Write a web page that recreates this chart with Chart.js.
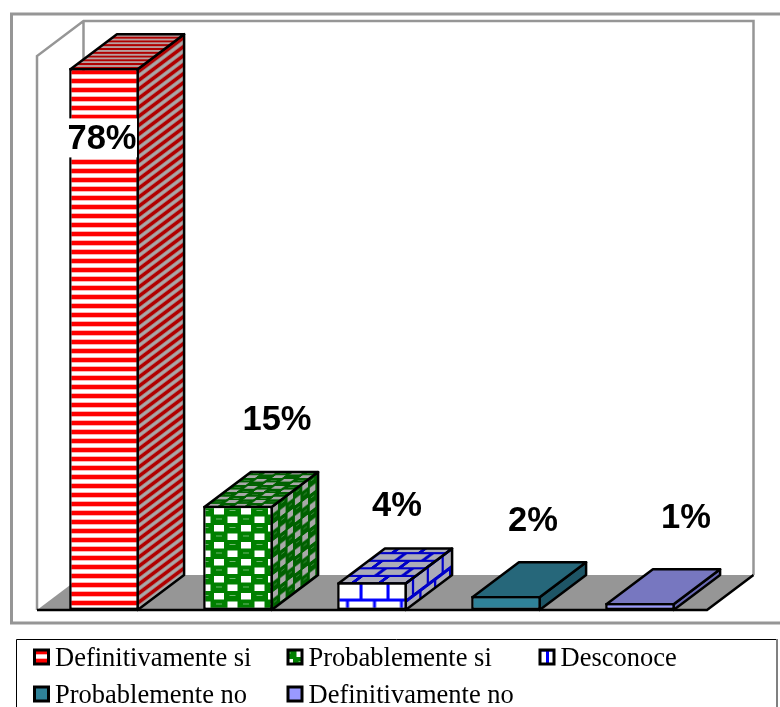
<!DOCTYPE html>
<html>
<head>
<meta charset="utf-8">
<style>html,body{margin:0;padding:0;background:#fff;overflow:hidden}#wrap{position:relative;width:780px;height:707px}</style>
<script src="https://cdn.jsdelivr.net/npm/chart.js@4"></script>
</head>
<body>
<div id="wrap"><canvas id="c" width="780" height="707"></canvas></div>
<script>
const categories = ["Definitivamente si", "Probablemente si", "Desconoce", "Probablemente no", "Definitivamente no"];
const values = [78, 15, 4, 2, 1];
const valueLabels = ["78%", "15%", "4%", "2%", "1%"];

// Styling only
const DEPTH_X = 46.5, DEPTH_Y = 35, WALL_INSET = 2, EDGE = 1.25;
const labelOffsets = [[-2, 70], [39, 87], [25, 78], [27, 77], [46, 87]]; // offset from bar top centre
const legendCols = [34.5, 288, 540], legendRows = [657, 694];

function tile(w, h, draw) {
  const c = document.createElement('canvas'); c.width = w; c.height = h;
  draw(c.getContext('2d'), w, h); return c;
}
const stripes = (bg, fg) => tile(9, 9, (g, w, h) => {
  g.fillStyle = bg; g.fillRect(0, 0, w, h);
  g.fillStyle = fg; g.fillRect(0, 1, w, 4);
  g.globalAlpha = .3; g.fillRect(0, 0, w, 1); g.fillRect(0, 5, w, 1); g.globalAlpha = 1;
});
const ovals = (bg, fg, hi) => tile(27, 17, (g, w, h) => {
  g.fillStyle = fg; g.fillRect(0, 0, w, h);
  // light cells sit between the ovals in a staggered layout
  g.fillStyle = bg;
  g.fillRect(2, 1, 10, 6.5);
  g.fillRect(15.5, 9.5, 10, 6.5);
  // faint highlight across each oval
  g.fillStyle = hi;
  g.fillRect(17.5, 3, 6, 1);
  g.fillRect(4, 11.5, 6, 1);
});
const bricks = (bg, fg, lw) => tile(27, 36, (g, w, h) => {
  g.fillStyle = bg; g.fillRect(0, 0, w, h);
  g.fillStyle = fg;
  g.fillRect(0, 18 - lw / 2, w, lw); g.fillRect(0, 36 - lw / 2, w, lw / 2); g.fillRect(0, 0, w, lw / 2);
  g.fillRect(13.5 - lw / 2, 0, lw, 18); g.fillRect(0, 18, lw / 2, 18); g.fillRect(27 - lw / 2, 18, lw / 2, 18);
});
const solid = (col) => tile(2, 2, (g, w, h) => { g.fillStyle = col; g.fillRect(0, 0, w, h); });

const faces = [
  { front: stripes('#ffffff', '#ff0000'), side: stripes('#a8a8a8', '#b00000'), top: stripes('#b8a0a0', '#b00000'), ox: 0, oy: 69 },
  { front: ovals('#ffffff', '#008000', '#6fb86f'), side: ovals('#a8a8a8', '#006000', '#3f8a3f'), top: ovals('#a8a8a8', '#006000', '#5f9a5f'), ox: 212, oy: 507 },
  { front: bricks('#ffffff', '#0000ff', 3), side: bricks('#acacb8', '#0000c8', 4), top: bricks('#acacb8', '#0000c8', 5), ox: 347.5, oy: 582 },
  { front: solid('#2f8299'), side: solid('#1e5566'), top: solid('#26677a'), ox: 0, oy: 0 },
  { front: solid('#9999ff'), side: solid('#6a6ab4'), top: solid('#7777c0'), ox: 0, oy: 0 }
];

const ctx0 = document.getElementById('c').getContext('2d');
const frontPatterns = faces.map(f => {
  const p = ctx0.createPattern(f.front, 'repeat');
  p.setTransform(new DOMMatrix().translate(f.ox, f.oy));
  return p;
});

function fillQuad(ctx, pts, img, m) {
  ctx.save();
  ctx.beginPath();
  pts.forEach((p, i) => i ? ctx.lineTo(p[0], p[1]) : ctx.moveTo(p[0], p[1]));
  ctx.closePath();
  ctx.save();
  ctx.clip();
  ctx.transform(m[0], m[1], m[2], m[3], m[4], m[5]);
  ctx.fillStyle = ctx.createPattern(img, 'repeat');
  ctx.fillRect(-2000, -2000, 4000, 4000);
  ctx.restore();
  ctx.lineWidth = 2.5; ctx.strokeStyle = '#000'; ctx.lineJoin = 'round';
  ctx.stroke();
  ctx.restore();
}

const scene3d = {
  id: 'scene3d',
  beforeDatasetsDraw(chart) {
    const { ctx, chartArea: a } = chart;
    const wallTop = a.top + WALL_INSET;
    ctx.save();
    // outer frame, open on the right
    ctx.strokeStyle = '#969696'; ctx.lineWidth = 3;
    ctx.beginPath(); ctx.moveTo(782, 14); ctx.lineTo(11.5, 14); ctx.lineTo(11.5, 623); ctx.lineTo(782, 623); ctx.stroke();
    // floor
    ctx.fillStyle = '#969696';
    ctx.beginPath(); ctx.moveTo(a.left, a.bottom); ctx.lineTo(a.left + DEPTH_X, a.bottom - DEPTH_Y);
    ctx.lineTo(a.right + DEPTH_X, a.bottom - DEPTH_Y); ctx.lineTo(a.right, a.bottom); ctx.closePath(); ctx.fill();
    // walls
    ctx.strokeStyle = '#969696'; ctx.lineWidth = 2.5; ctx.lineJoin = 'miter';
    ctx.beginPath();
    ctx.moveTo(a.left, a.bottom); ctx.lineTo(a.left, wallTop); ctx.lineTo(a.left + DEPTH_X, wallTop - DEPTH_Y);
    ctx.lineTo(a.right + DEPTH_X, wallTop - DEPTH_Y); ctx.lineTo(a.right + DEPTH_X, a.bottom - DEPTH_Y);
    ctx.moveTo(a.left + DEPTH_X, wallTop - DEPTH_Y); ctx.lineTo(a.left + DEPTH_X, a.bottom - DEPTH_Y);
    ctx.stroke();
    // floor front edges
    ctx.strokeStyle = '#000'; ctx.lineWidth = 2.5;
    ctx.beginPath(); ctx.moveTo(a.left, a.bottom); ctx.lineTo(a.right, a.bottom); ctx.lineTo(a.right + DEPTH_X, a.bottom - DEPTH_Y); ctx.stroke();
    ctx.restore();
    // bar depth faces
    chart.getDatasetMeta(0).data.forEach((bar, i) => {
      const l = bar.x - bar.width / 2 + EDGE, r = bar.x + bar.width / 2 - EDGE, t = bar.y + EDGE, b = bar.base, f = faces[i];
      fillQuad(ctx, [[r, t], [r + DEPTH_X, t - DEPTH_Y], [r + DEPTH_X, b - DEPTH_Y], [r, b]], f.side,
        [0.55, -0.55 * DEPTH_Y / DEPTH_X, 0, 1, r, t]);
      fillQuad(ctx, [[l, t], [r, t], [r + DEPTH_X, t - DEPTH_Y], [l + DEPTH_X, t - DEPTH_Y]], f.top,
        [1, 0, 0.42 * DEPTH_X / DEPTH_Y, -0.42, l, t]);
    });
  },
  afterDatasetsDraw(chart) {
    const { ctx } = chart;
    ctx.save();
    ctx.font = 'bold 34.5px "Liberation Sans"';
    ctx.textAlign = 'center'; ctx.textBaseline = 'middle';
    chart.getDatasetMeta(0).data.forEach((bar, i) => {
      const x = bar.x + labelOffsets[i][0], y = bar.y + (i === 0 ? labelOffsets[i][1] : -labelOffsets[i][1]);
      if (i === 0) {
        ctx.fillStyle = '#fff';
        ctx.fillRect(x - 35, y - 19.5, 70, 39);
      }
      ctx.fillStyle = '#000';
      ctx.fillText(valueLabels[i], x, y + 2);
    });
    ctx.restore();
  },
  afterDraw(chart) {
    const { ctx } = chart;
    ctx.save();
    // legend box, clipped by the page bottom
    ctx.fillStyle = '#fff'; ctx.fillRect(16, 639, 761, 80);
    ctx.strokeStyle = '#000'; ctx.lineWidth = 1;
    ctx.beginPath(); ctx.moveTo(16.5, 720); ctx.lineTo(16.5, 639.5); ctx.lineTo(777, 639.5); ctx.stroke();
    ctx.strokeStyle = '#808080'; ctx.lineWidth = 2;
    ctx.beginPath(); ctx.moveTo(777, 639); ctx.lineTo(777, 720); ctx.stroke();
    ctx.font = '26.5px "Liberation Serif"'; ctx.textBaseline = 'middle'; ctx.textAlign = 'left';
    categories.forEach((name, i) => {
      const x = legendCols[i % 3], y = legendRows[Math.floor(i / 3)];
      ctx.save();
      ctx.beginPath(); ctx.rect(x, y - 7, 14, 14); ctx.clip();
      ctx.translate(x - (i === 1 ? 7 : i === 2 ? 6 : 0), y - 7 - (i === 0 ? 1 : i === 1 ? 9 : 0));
      ctx.fillStyle = ctx.createPattern(faces[i].front, 'repeat');
      ctx.fillRect(0, 0, 40, 40);
      ctx.restore();
      ctx.strokeStyle = '#000'; ctx.lineWidth = 3;
      ctx.strokeRect(x, y - 7, 14, 14);
      ctx.fillStyle = '#000';
      ctx.fillText(name, x + 20.5, y + 2);
    });
    ctx.restore();
  }
};

new Chart(document.getElementById('c'), {
  type: 'bar',
  data: {
    labels: categories,
    datasets: [{
      data: values,
      backgroundColor: frontPatterns,
      borderColor: '#000',
      borderWidth: 2.5,
      borderSkipped: false,
      barPercentage: 0.52,
      categoryPercentage: 1
    }]
  },
  options: {
    responsive: false,
    animation: false,
    layout: { padding: { left: 37, right: 73, top: 54, bottom: 97 } },
    plugins: { legend: { display: false }, title: { display: false }, tooltip: { enabled: false } },
    scales: {
      x: { display: false, grid: { display: false } },
      y: { display: false, min: 0, max: 80, grid: { display: false } }
    }
  },
  plugins: [scene3d]
});
</script>
</body>
</html>
